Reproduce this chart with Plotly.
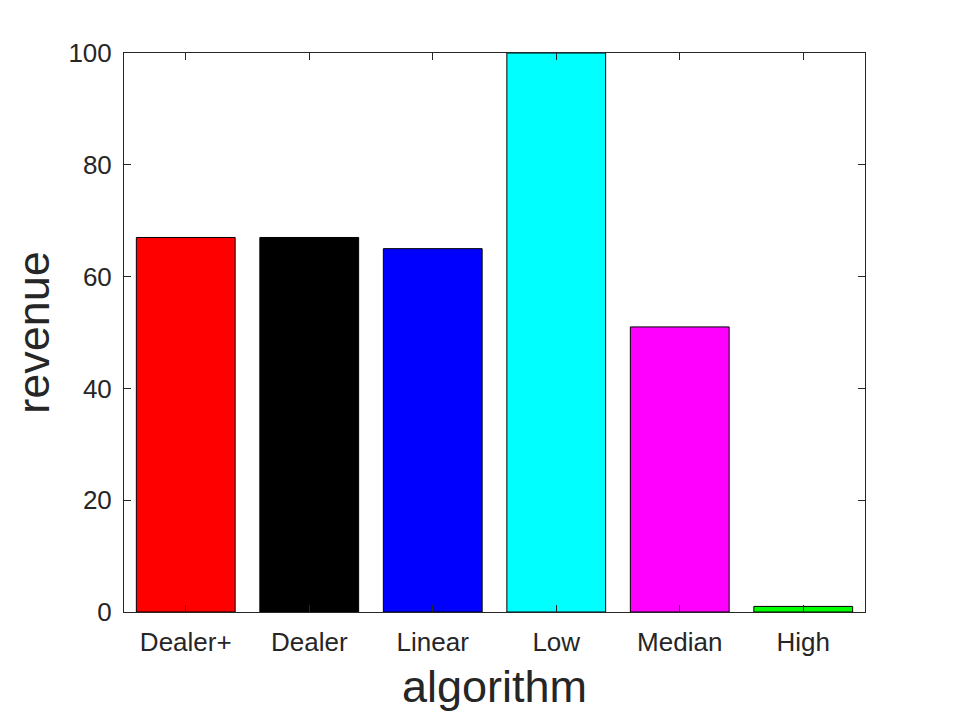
import plotly.graph_objects as go

categories = ["Dealer+", "Dealer", "Linear", "Low", "Median", "High"]
revenue = [67, 67, 65, 100, 51, 1]
colors = ["#ff0000", "#000000", "#0000ff", "#00ffff", "#ff00ff", "#00ff00"]
y_ticks = [0, 20, 40, 60, 80, 100]

FONT = "Liberation Sans, Arial, Helvetica, sans-serif"
INK = "#262626"

fig = go.Figure(go.Bar(
    x=list(range(1, len(categories) + 1)),
    y=revenue,
    width=0.8,
    marker=dict(color=colors, line=dict(color="#000000", width=1)),
))

axis_common = dict(
    showline=True, linecolor=INK, linewidth=1, mirror="ticks",
    ticks="inside", ticklen=7, tickcolor=INK, tickwidth=1,
    showgrid=False, zeroline=False,
    tickfont=dict(family=FONT, size=26, color=INK),
)

fig.update_layout(
    width=955, height=716,
    margin=dict(l=116, r=98, t=45, b=112),
    paper_bgcolor="white", plot_bgcolor="white",
    showlegend=False,
    xaxis=dict(
        range=[0.5, 6.5],
        tickmode="array", tickvals=list(range(1, len(categories) + 1)), ticktext=categories,
        ticklabelstandoff=7,
        title=dict(text="algorithm", font=dict(family=FONT, size=45, color=INK), standoff=14),
        **axis_common,
    ),
    yaxis=dict(
        range=[0, 100],
        tickmode="array", tickvals=y_ticks,
        ticklabelstandoff=6,
        title=dict(text="revenue", font=dict(family=FONT, size=45, color=INK), standoff=6),
        **axis_common,
    ),
)

fig.write_html("out.html")
